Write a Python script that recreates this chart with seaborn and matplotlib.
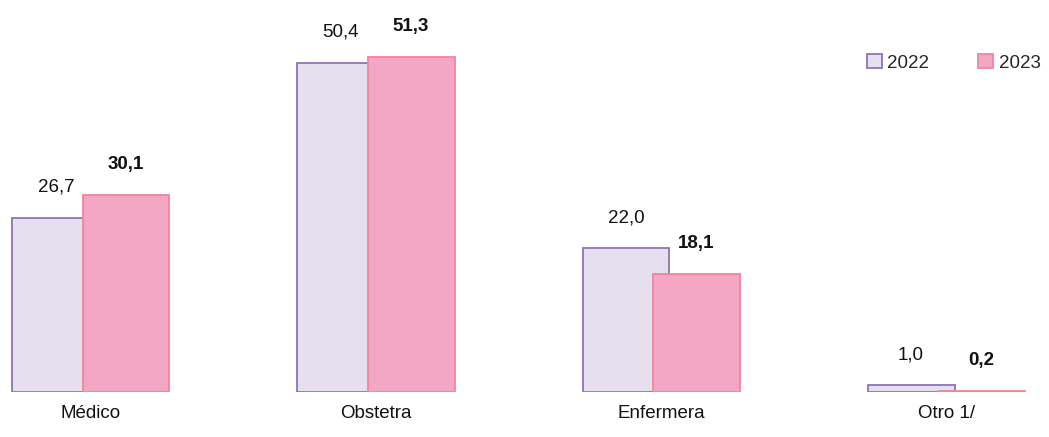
import pandas as pd
import numpy as np
import matplotlib
matplotlib.use('Agg')
import matplotlib.pyplot as plt
from matplotlib.patches import Patch
import seaborn as sns
import warnings
warnings.filterwarnings('ignore')

# data
categorias = ['Médico', 'Obstetra', 'Enfermera', 'Otro 1/']
anios = ['2022', '2023']
valores_2022 = [26.7, 50.4, 22.0, 1.0]
valores_2023 = [30.1, 51.3, 18.1, 0.2]

df = pd.DataFrame({
    'categoria': categorias * 2,
    'anio': [anios[0]] * 4 + [anios[1]] * 4,
    'valor': valores_2022 + valores_2023,
})

face = {'2022': '#E6E0EE', '2023': '#F4A7C4'}
edge = {'2022': '#9072B8', '2023': '#F5849B'}

sns.set_style('white')
plt.rcParams['font.family'] = ['Liberation Sans', 'DejaVu Sans']

fig = plt.figure(figsize=(10.49, 4.37), dpi=100)
ax = fig.add_axes([0, 45 / 437, 1, 392 / 437])

sns.barplot(data=df, x='categoria', y='valor', hue='anio', order=categorias,
            hue_order=anios, width=0.7, palette=face, saturation=1,
            legend=False, ax=ax)

# overlap the bars a bit, like the original
for i, anio in enumerate(anios):
    for j, p in enumerate(ax.containers[i]):
        c = p.get_x() + p.get_width() / 2
        cat = round(c)
        nc = cat + (c - cat) * 0.123 / 0.175
        w = 0.305
        p.set_x(nc - w / 2)
        p.set_width(w)
        p.set_edgecolor(edge[anio])
        p.set_linewidth(1.3)
        p.set_zorder(2 + i)
        v = df[(df.anio == anio)].valor.iloc[j]
        ax.annotate(f'{v:.1f}'.replace('.', ','), (nc, p.get_height()),
                    xytext=(0, 22), textcoords='offset points',
                    ha='center', va='center', fontsize=13.5,
                    fontweight='bold' if anio == '2023' else 'normal',
                    color='#111111')

ax.set_xlim(-0.319, 3.361)
ax.set_ylim(0, 60)
ax.set_yticks([])
ax.set_xlabel('')
ax.set_ylabel('')
ax.tick_params(axis='x', length=0, labelsize=13.5, pad=9, colors='#111111')
sns.despine(ax=ax, left=True, bottom=True)

handles = [Patch(facecolor=face[a], edgecolor=edge[a], linewidth=1.3, label=a) for a in anios]
ax.legend(handles=handles, loc='upper right', bbox_to_anchor=(1.008, 0.905), ncol=2,
          frameon=False, handlelength=0.8, handleheight=0.8, handletextpad=0.3,
          columnspacing=2.6, fontsize=13.5)

plt.savefig('out.png', dpi=100)
